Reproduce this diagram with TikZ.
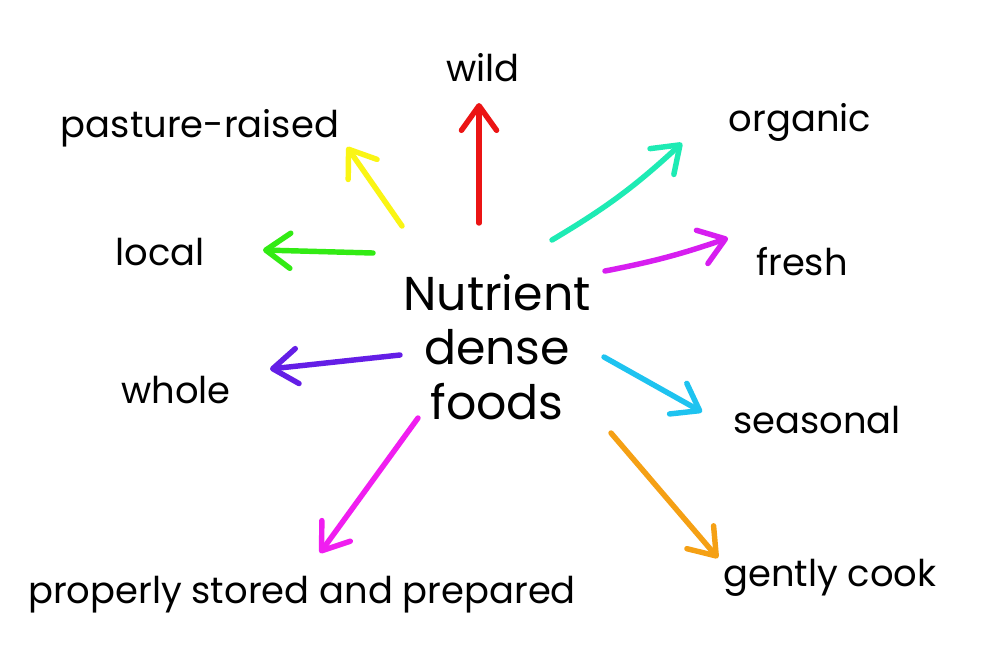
\documentclass[tikz,border=0pt]{standalone}
\usepackage{fontspec}
\setmainfont{Poppins}
\usetikzlibrary{arrows.meta}
\definecolor{wildred}{RGB}{235,20,20}
\definecolor{pastyellow}{RGB}{250,245,20}
\definecolor{orgteal}{RGB}{30,235,180}
\definecolor{localgreen}{RGB}{50,235,20}
\definecolor{freshmag}{RGB}{215,30,240}
\definecolor{wholeviolet}{RGB}{100,30,230}
\definecolor{seasblue}{RGB}{30,195,240}
\definecolor{propmag}{RGB}{240,30,240}
\definecolor{cookorange}{RGB}{245,160,20}
\begin{document}
\begin{tikzpicture}[x=0.02cm,y=-0.02cm,
  word/.style={font=\fontsize{21}{25}\selectfont, inner sep=0pt},
  pen/.style={line width=3.1pt, line cap=round, line join=round,
    -{Straight Barb[length=14pt,width=20pt,round]}}]
\useasboundingbox (0,0) rectangle (1000,667);
\fill[white] (0,0) rectangle (1000,667);
% centre
\node[font=\fontsize{27}{31}\selectfont, align=center, inner sep=0pt] (nd) at (497,347) {Nutrient\\dense\\foods};
% labels
\node[word] (wild) at (483,68) {wild};
\node[word] (past) at (200,128) {pasture-raised};
\node[word] (org) at (800,122) {organic};
\node[word] (loc) at (160,252) {local};
\node[word] (fresh) at (802,262) {fresh};
\node[word] (whole) at (176,390) {whole};
\node[word] (seas) at (817,420) {seasonal};
\node[word] (prop) at (302,595) {properly stored and prepared};
\node[word] (cook) at (830,578) {gently cook};
% arrow ends
\coordinate (t1) at (479,223); \coordinate (h1) at (479,103);
\coordinate (t2) at (402,226); \coordinate (h2) at (347,147);
\coordinate (t3) at (552,240); \coordinate (h3) at (682,143);
\coordinate (t4) at (373,253); \coordinate (h4) at (263,250);
\coordinate (t5) at (605,271); \coordinate (h5) at (728,238);
\coordinate (t6) at (400,355); \coordinate (h6) at (270,369);
\coordinate (t7) at (604,357); \coordinate (h7) at (702,412);
\coordinate (t8) at (418,418); \coordinate (h8) at (320,553);
\coordinate (t9) at (611,433); \coordinate (h9) at (718,558);
\draw[pen, wildred] (t1) -- (h1);
\draw[pen, pastyellow] (t2) -- (h2);
\draw[pen, orgteal] (t3) to[bend right=6] (h3);
\draw[pen, localgreen] (t4) -- (h4);
\draw[pen, freshmag] (t5) to[bend right=4] (h5);
\draw[pen, wholeviolet] (t6) -- (h6);
\draw[pen, seasblue] (t7) -- (h7);
\draw[pen, propmag] (t8) -- (h8);
\draw[pen, cookorange] (t9) -- (h9);
\end{tikzpicture}
\end{document}
